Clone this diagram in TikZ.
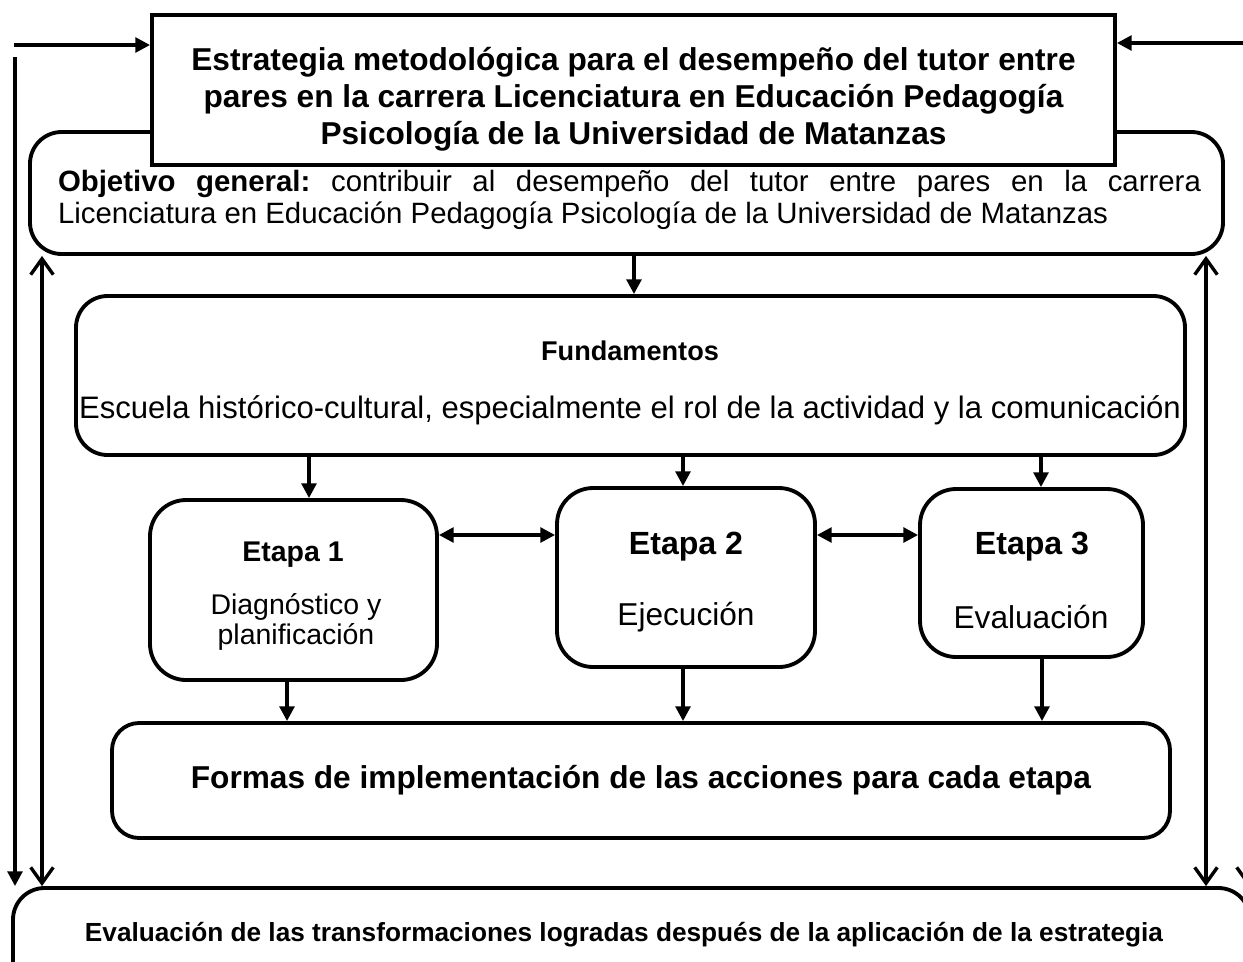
\documentclass[tikz,border=0pt]{standalone}
\usepackage{fontspec}
\setmainfont{Liberation Sans}
\usetikzlibrary{arrows.meta}
\hyphenpenalty=10000
\frenchspacing

\begin{document}
\begin{tikzpicture}[x=0.4425pt, y=-0.4425pt,
  box/.style={draw, line width=1.7pt, align=center, inner sep=0pt, fill=white},
  rbox/.style={box, rounded corners=14pt},
  txt/.style={inner sep=0pt, align=center},
  fillarrow/.style={line width=1.5pt, -{Triangle[length=6.5pt,width=6.5pt]}},
  fillboth/.style={line width=1.5pt, {Triangle[length=6.5pt,width=6.5pt]}-{Triangle[length=6.5pt,width=6.5pt]}},
  openarrow/.style={line width=1.5pt, -{Straight Barb[length=7pt,width=10pt,line width=1.5pt]}},
  openboth/.style={line width=1.5pt, {Straight Barb[length=7pt,width=10pt,line width=1.5pt]}-{Straight Barb[length=7pt,width=10pt,line width=1.5pt]}}
]
\def \px {0.4425pt}
\useasboundingbox (0,0) rectangle (1243,961);

% objective, drawn first so the title box covers it
\node[rbox, minimum width=1193*\px, minimum height=122*\px] (objbox) at (626.5,193) {};
\node[txt, text width=1143*\px, align=justify, font=\fontsize{13}{14.2}\selectfont] (objtxt) at (629.5,200)
  {\textbf{Objetivo general:} contribuir al desempeño del tutor entre pares en la carrera\linebreak Licenciatura en Educación Pedagogía Psicología de la Universidad de Matanzas};

% title
\node[box, minimum width=963*\px, minimum height=150*\px] (title) at (633.5,90) {};
\node[txt, font=\fontsize{14}{16.4}\selectfont\bfseries] (titletxt) at (633.5,99)
  {Estrategia metodológica para el desempeño del tutor entre\\ pares en la carrera Licenciatura en Educación Pedagogía\\ Psicología de la Universidad de Matanzas};

% fundamentos
\node[rbox, minimum width=1109*\px, minimum height=159*\px] (fund) at (630.5,375.5) {};
\node[txt, font=\fontsize{12}{14}\selectfont\bfseries] (fundhead) at (630,351) {Fundamentos};
\node[txt, font=\fontsize{13.75}{16}\selectfont] (fundtxt) at (630,410)
  {Escuela histórico-cultural, especialmente el rol de la actividad y la comunicación};

% the three stages
\node[rbox, rounded corners=16pt, minimum width=287*\px, minimum height=180*\px] (e1) at (293.5,590) {};
\node[txt, font=\fontsize{12.6}{14}\selectfont\bfseries] (e1head) at (293,555) {Etapa 1};
\node[txt, font=\fontsize{12.6}{13.3}\selectfont] (e1txt) at (296,622) {Diagnóstico y\\ planificación};

\node[rbox, rounded corners=16pt, minimum width=258*\px, minimum height=179*\px] (e2) at (686,577.5) {};
\node[txt, font=\fontsize{14.2}{16}\selectfont\bfseries] (e2head) at (686,547) {Etapa 2};
\node[txt, font=\fontsize{14}{16}\selectfont] (e2txt) at (686,617) {Ejecución};

\node[rbox, rounded corners=16pt, minimum width=223*\px, minimum height=168*\px] (e3) at (1031.5,573) {};
\node[txt, font=\fontsize{14.2}{16}\selectfont\bfseries] (e3head) at (1032,547) {Etapa 3};
\node[txt, font=\fontsize{14}{16}\selectfont] (e3txt) at (1031,617) {Evaluación};

% forms of implementation
\node[rbox, rounded corners=12pt, minimum width=1058*\px, minimum height=115*\px, font=\fontsize{14}{16}\selectfont\bfseries] (formas) at (641,780.5)
  {Formas de implementación de las acciones para cada etapa};

% final evaluation
\node[rbox, minimum width=1237*\px, minimum height=125*\px] (evalbox) at (631.5,950.5) {};
\node[txt, font=\fontsize{11.6}{13}\selectfont\bfseries] (evaltxt) at (624,935)
  {Evaluación de las transformaciones logradas después de la aplicación de la estrategia};

% free ends of the outer loop
\coordinate (ltop) at (14,45);
\coordinate (lside) at (15,57);
\coordinate (rtop) at (1248,43);
\coordinate (linner) at (42,0);
\coordinate (rinner) at (1206,0);

% connectors
\draw[fillarrow] (ltop) -- (title.west |- ltop);
\draw[fillarrow] (lside) -- (lside |- evalbox.north);
\draw[fillarrow] (rtop) -- (title.east |- rtop);
\draw[openarrow] (rtop) -- (rtop |- evalbox.north);
\draw[openboth] (linner |- objbox.south) -- (linner |- evalbox.north);
\draw[openboth] (rinner |- objbox.south) -- (rinner |- evalbox.north);

\draw[fillarrow] (objbox.south -| 634,0) -- (fund.north -| 634,0);
\foreach \n/\x in {e1/309, e2/683, e3/1041}
  \draw[fillarrow] (\x,0 |- fund.south) -- (\x,0 |- \n.north);
\foreach \n/\x in {e1/287, e2/683, e3/1042}
  \draw[fillarrow] (\x,0 |- \n.south) -- (\x,0 |- formas.north);
\draw[fillboth] (e1.east |- 0,535) -- (e2.west |- 0,535);
\draw[fillboth] (e2.east |- 0,535) -- (e3.west |- 0,535);
\end{tikzpicture}
\end{document}
